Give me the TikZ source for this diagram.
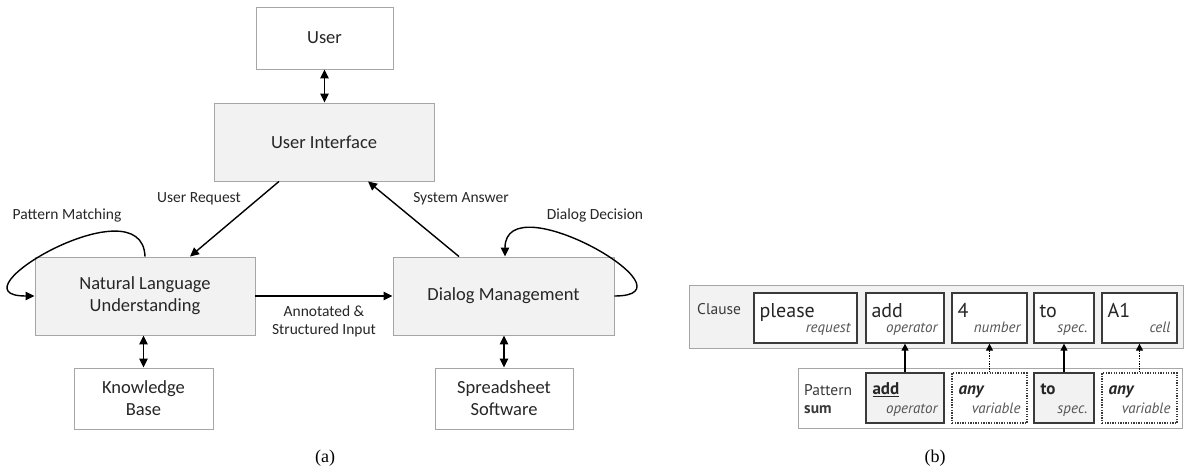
\documentclass[tikz,border=0pt]{standalone}
\usepackage{fontspec}
\setmainfont{Carlito}
\newfontfamily\bfont{PT Sans}
\newfontfamily\capfont{Liberation Serif}
\usetikzlibrary{arrows.meta,calc}

\definecolor{boxgray}{HTML}{F2F2F2}
\definecolor{edgegray}{HTML}{A6A6A6}
\definecolor{txt}{HTML}{262626}
\definecolor{dark}{HTML}{3A3A3A}
\definecolor{catcol}{HTML}{555555}

\tikzset{
  comp/.style={draw=edgegray, line width=0.9pt, fill=boxgray, inner sep=0pt,
    align=center, text=txt, font=\fontsize{18.5}{22}\selectfont},
  ext/.style={comp, fill=white},
  atip/.tip={Triangle[length=9pt,width=8.5pt]},
  arr/.style={-atip, line width=1.4pt},
  darr/.style={atip-atip, line width=1.4pt},
  lbl/.style={text=txt, font=\fontsize{15.5}{18}\selectfont, inner sep=0pt, align=center},
  % panel (b)
  panelframe/.style={draw=edgegray, line width=0.9pt, inner sep=0pt},
  cbox/.style={draw=dark, line width=1.3pt, fill=white, inner sep=0pt, minimum height=50pt},
  pbox/.style={cbox, fill=boxgray},
  vbox/.style={cbox, dash pattern=on 1.3pt off 1.3pt},
  word/.style={inner sep=0pt, text=txt, font=\bfont\fontsize{20}{24}\selectfont},
  pword/.style={inner sep=0pt, text=txt, font=\bfont\bfseries\fontsize{17}{20}\selectfont},
  catg/.style={inner sep=0pt, text=catcol, font=\bfont\itshape\fontsize{15}{18}\selectfont},
  sidelabel/.style={inner sep=0pt, text=dark, font=\bfont\fontsize{15.5}{18}\selectfont},
  btip/.tip={Triangle[length=7pt,width=7pt]},
  barr/.style={-btip, line width=1.3pt},
  bdarr/.style={-btip, line width=1.3pt, dash pattern=on 1.3pt off 1.3pt},
  captext/.style={inner sep=0pt, font=\capfont\fontsize{18}{22}\selectfont},
}

\begin{document}
\begin{tikzpicture}[x=1pt,y=-1pt]
\useasboundingbox (0,0) rectangle (1185,470);

% ---------- (a) dialog system architecture ----------
\node[ext,  minimum width=137pt, minimum height=62pt] (user) at (324.5,38)  {User};
\node[comp, minimum width=220pt, minimum height=78pt] (ui)   at (324,142)   {User Interface};
\node[comp, minimum width=220pt, minimum height=78pt] (nlu)  at (145,296)   {Natural Language\\Understanding};
\node[comp, minimum width=221pt, minimum height=78pt] (dm)   at (503.5,296) {Dialog Management};
\node[ext,  minimum width=139pt, minimum height=61pt] (kb)   at (143.5,398.5) {Knowledge\\Base};
\node[ext,  minimum width=138pt, minimum height=61pt] (ss)   at (504,398.5) {Spreadsheet\\Software};

\draw[darr] (user.south) -- (ui.north -| user.south);
\draw[arr] ([xshift=-45pt]ui.south) -- ([xshift=45pt]nlu.north);
\draw[arr] ([xshift=-44.5pt]dm.north) -- ([xshift=44pt]ui.south);
\draw[arr] (nlu.east) -- (dm.west);
\draw[darr] (kb.north |- nlu.south) -- (kb.north);
\draw[darr] (ss.north |- dm.south) -- (ss.north);

% self loops
\draw[arr] (nlu.north) to[out=92, in=180, out distance=75pt, in distance=88pt] (nlu.west);
\draw[arr] (dm.east) to[out=0, in=90, out distance=88pt, in distance=75pt] ([xshift=1.5pt]dm.north);

\node[lbl] (lpm) at (67,215)  {Pattern Matching};
\node[lbl] (lur) at (199,199) {User Request};
\node[lbl] (lsa) at (461,199) {System Answer};
\node[lbl] (ldd) at (595,215) {Dialog Decision};
\node[lbl] (lai) at (324,321) {Annotated \&\\Structured Input};

\node[captext] (capa) at (325,458) {(a)};

% ---------- (b) clause and pattern ----------
\node[panelframe, fill=boxgray, minimum width=494pt, minimum height=63pt] (clause) at (936,316.5) {};
\node[panelframe, fill=white,   minimum width=384pt, minimum height=60pt] (pattern) at (990,398) {};

\node[sidelabel, anchor=base west] (lcl) at (697,314) {Clause};
\node[sidelabel, anchor=base west] (lpt) at (804,395) {Pattern};
\node[sidelabel, anchor=base west] (lsum) at (804,413) {\bfseries sum};

% clause words
\node[cbox, minimum width=103pt] (c1) at (805.5,318) {};
\node[cbox, minimum width=78pt]  (c2) at (905,318)   {};
\node[cbox, minimum width=75pt]  (c3) at (989.5,318) {};
\node[cbox, minimum width=60pt]  (c4) at (1064,318)  {};
\node[cbox, minimum width=75pt]  (c5) at (1139.5,318) {};

\node[word, anchor=base west] (w1) at ($(c1.north west)+(6,25)$) {please};
\node[word, anchor=base west] (w2) at ($(c2.north west)+(6,25)$) {add};
\node[word, anchor=base west] (w3) at ($(c3.north west)+(6,25)$) {4};
\node[word, anchor=base west] (w4) at ($(c4.north west)+(6,25)$) {to};
\node[word, anchor=base west] (w5) at ($(c5.north west)+(6,25)$) {A1};

\node[catg, anchor=base east] (k1) at ($(c1.south east)+(-7,-11)$) {request};
\node[catg, anchor=base east] (k2) at ($(c2.south east)+(-7,-11)$) {operator};
\node[catg, anchor=base east] (k3) at ($(c3.south east)+(-7,-11)$) {number};
\node[catg, anchor=base east] (k4) at ($(c4.south east)+(-7,-11)$) {spec.};
\node[catg, anchor=base east] (k5) at ($(c5.south east)+(-7,-11)$) {cell};

% pattern elements
\node[pbox, minimum width=78pt] (p1) at (905,398)    {};
\node[vbox, minimum width=75pt] (p2) at (989.5,398)  {};
\node[pbox, minimum width=60pt] (p3) at (1064,398)   {};
\node[vbox, minimum width=75pt] (p4) at (1139.5,398) {};

\node[pword, anchor=base west] (q1) at ($(p1.north west)+(7,22)$) {\underline{add}};
\node[pword, anchor=base west] (q2) at ($(p2.north west)+(7,22)$) {\itshape any};
\node[pword, anchor=base west] (q3) at ($(p3.north west)+(7,22)$) {to};
\node[pword, anchor=base west] (q4) at ($(p4.north west)+(7,22)$) {\itshape any};

\node[catg, anchor=base east] (r1) at ($(p1.south east)+(-7,-10)$) {operator};
\node[catg, anchor=base east] (r2) at ($(p2.south east)+(-7,-10)$) {variable};
\node[catg, anchor=base east] (r3) at ($(p3.south east)+(-7,-10)$) {spec.};
\node[catg, anchor=base east] (r4) at ($(p4.south east)+(-7,-10)$) {variable};

\draw[barr]  (p1.north) -- (c2.south);
\draw[bdarr] (p2.north) -- (c3.south);
\draw[barr]  (p3.north) -- (c4.south);
\draw[bdarr] (p4.north) -- (c5.south);

\node[captext] (capb) at (935,458) {(b)};
\end{tikzpicture}
\end{document}
